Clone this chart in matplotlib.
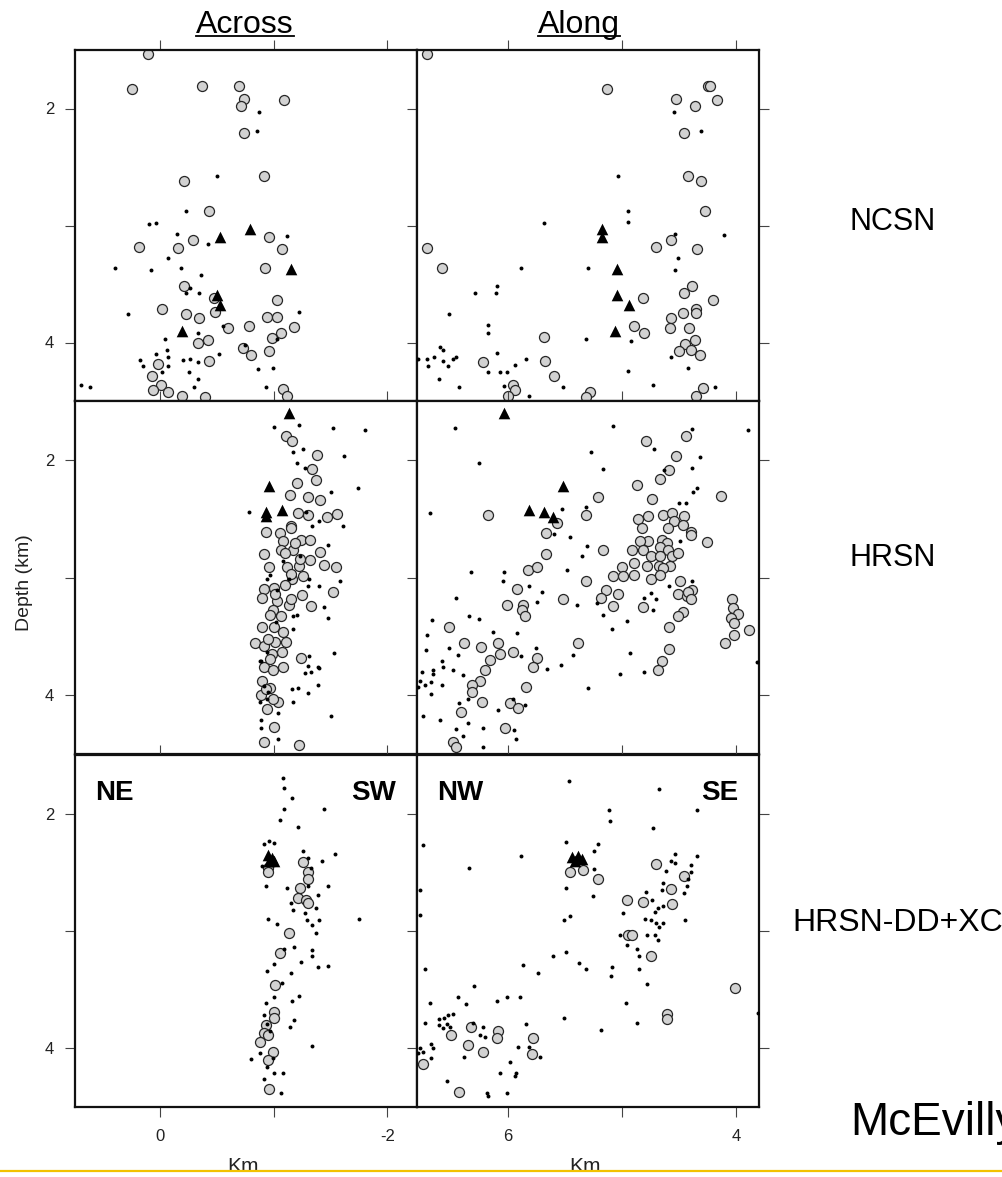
"""
Depth sections (across / along strike) for three catalog solutions.
"""
import numpy as np
import matplotlib
matplotlib.use("Agg")
import matplotlib.pyplot as plt
from matplotlib.lines import Line2D
from matplotlib.patches import Rectangle

plt.rcParams['font.family'] = ['Liberation Sans', 'DejaVu Sans']
plt.rcParams['axes.unicode_minus'] = False

# ---- catalog locations: (km, depth km) ----
NCSN_ACROSS_CIRC = [
    (0.11, 1.53), (0.25, 1.83), (-0.37, 1.81), (-0.69, 1.81), (-0.74, 1.92), (-0.71, 1.98),
    (-1.09, 1.93), (-0.74, 2.21), (-0.21, 2.62), (-0.91, 2.58), (-0.43, 2.88), (-0.29, 3.12),
    (0.19, 3.18), (-0.16, 3.19), (-0.96, 3.10), (-1.07, 3.20), (-0.92, 3.36), (-0.21, 3.52),
    (-0.47, 3.62), (-1.03, 3.64), (-0.02, 3.71), (-0.23, 3.76), (-0.34, 3.79), (-0.48, 3.74),
    (-0.60, 3.88), (-0.78, 3.86), (-0.94, 3.78), (-1.03, 3.78), (-1.18, 3.87), (-1.06, 3.92),
    (-0.98, 3.96), (-0.33, 4.00), (-0.42, 3.98), (-0.73, 4.05), (-0.80, 4.11), (-0.96, 4.07),
    (-0.43, 4.16), (0.02, 4.18), (0.07, 4.29), (-0.01, 4.36), (0.06, 4.41), (-0.07, 4.42),
    (-0.19, 4.46), (-0.39, 4.47), (-1.08, 4.40), (-1.12, 4.46),
]
NCSN_ACROSS_TRI = [(-0.53, 3.10), (-0.79, 3.03), (-1.15, 3.37), (-0.50, 3.59), (-0.53, 3.68),
                   (-0.19, 3.90)]
NCSN_ACROSS_DOT = [
    (-0.87, 2.03), (-0.85, 2.19), (-0.50, 2.58), (-0.23, 2.88), (0.10, 2.99), (0.04, 2.98),
    (-0.15, 3.07), (-0.42, 3.16), (-1.12, 3.09), (-0.07, 3.28), (0.40, 3.36), (0.08, 3.38),
    (-0.18, 3.36), (-0.36, 3.42), (-0.26, 3.53), (-0.23, 3.58), (-0.34, 3.58), (0.28, 3.76),
    (-1.22, 3.74), (-0.55, 3.86), (-0.33, 3.92), (-0.04, 3.97), (-1.03, 3.97), (-0.75, 4.02),
    (-0.06, 4.06), (0.04, 4.10), (-0.52, 4.10), (-0.07, 4.12), (0.18, 4.15), (0.15, 4.20),
    (-0.07, 4.20), (-0.20, 4.15), (-0.26, 4.14), (-0.33, 4.17), (-0.86, 4.23), (-0.99, 4.22),
    (-0.02, 4.25), (-0.25, 4.25), (-0.33, 4.31), (0.70, 4.36), (0.62, 4.38), (-0.30, 4.38),
    (-0.93, 4.38),
]

NCSN_ALONG_CIRC = [
    (6.71, 1.53), (5.13, 1.83), (4.25, 1.81), (4.23, 1.81), (4.53, 1.92), (4.36, 1.98),
    (4.17, 1.93), (4.46, 2.21), (4.42, 2.58), (4.31, 2.62), (4.27, 2.88), (6.71, 3.19),
    (6.58, 3.36), (4.70, 3.18), (4.57, 3.12), (4.34, 3.20), (4.39, 3.52), (4.46, 3.58),
    (4.20, 3.64), (4.82, 3.62), (4.90, 3.86), (4.81, 3.92), (4.57, 3.79), (4.47, 3.75),
    (4.35, 3.71), (4.35, 3.75), (4.58, 3.88), (4.41, 3.88), (4.45, 4.01), (4.36, 3.98),
    (4.50, 4.07), (4.40, 4.06), (4.32, 4.11), (5.69, 3.95), (6.22, 4.17), (5.68, 4.16),
    (5.60, 4.29), (5.96, 4.36), (5.94, 4.41), (6.00, 4.46), (5.28, 4.42), (5.32, 4.47),
    (4.29, 4.39), (4.35, 4.46),
]
NCSN_ALONG_TRI = [(5.18, 3.03), (5.18, 3.10), (5.05, 3.37), (5.05, 3.59), (4.94, 3.68),
                  (5.06, 3.90)]
NCSN_ALONG_DOT = [
    (4.55, 2.03), (4.31, 2.19), (5.04, 2.58), (4.95, 2.88), (4.95, 2.97), (5.69, 2.98),
    (4.54, 3.07), (4.11, 3.08), (4.51, 3.28), (4.54, 3.38), (5.89, 3.36), (5.30, 3.36),
    (6.29, 3.58), (6.11, 3.58), (6.10, 3.52), (6.52, 3.76), (6.18, 3.85), (6.18, 3.92),
    (5.32, 3.97), (4.92, 3.99), (6.60, 4.04), (6.57, 4.06), (6.79, 4.14), (6.71, 4.14),
    (6.65, 4.12), (6.70, 4.20), (6.57, 4.16), (6.53, 4.20), (6.48, 4.14), (6.46, 4.12),
    (6.61, 4.31), (6.43, 4.38), (6.10, 4.09), (6.18, 4.25), (6.07, 4.25), (6.01, 4.25),
    (5.94, 4.19), (5.84, 4.14), (6.04, 4.37), (5.52, 4.38), (4.95, 4.24), (4.73, 4.36),
    (4.57, 4.12), (4.42, 4.22), (4.19, 4.38), (5.82, 4.46),
]

HRSN_ACROSS_CIRC = [
    (-1.11, 1.80), (-1.16, 1.84), (-1.38, 1.96), (-1.34, 2.08), (-1.20, 2.20), (-1.37, 2.17),
    (-1.14, 2.30), (-1.30, 2.32), (-1.41, 2.34), (-1.56, 2.46), (-1.47, 2.49), (-1.30, 2.47),
    (-1.21, 2.45), (-0.93, 2.61), (-1.05, 2.62), (-1.15, 2.56), (-1.24, 2.68), (-1.32, 2.68),
    (-1.08, 2.69), (-0.91, 2.80), (-1.06, 2.77), (-1.17, 2.77), (-1.41, 2.78), (-1.32, 2.85),
    (-1.44, 2.89), (-1.55, 2.91), (-0.96, 2.91), (-1.12, 2.91), (-1.22, 2.90), (-1.26, 2.99),
    (-1.16, 3.01), (-1.52, 3.12), (-0.91, 3.10), (-1.00, 3.09), (-1.10, 3.06), (-1.25, 3.15),
    (-0.90, 3.17), (-1.03, 3.20), (-1.13, 3.23), (-1.33, 3.24), (-0.99, 3.28), (-0.97, 3.32),
    (-1.06, 3.33), (-0.90, 3.42), (-1.00, 3.42), (-1.08, 3.46), (-0.83, 3.56), (-0.91, 3.58),
    (-1.01, 3.55), (-1.11, 3.55), (-0.98, 3.65), (-1.07, 3.63), (-1.24, 3.68), (-0.91, 3.76),
    (-0.99, 3.79), (-1.08, 3.76), (-0.90, 3.88), (-0.97, 3.94), (-0.89, 4.00), (-1.04, 4.06),
    (-0.94, 4.12), (-1.00, 4.27), (-0.91, 4.40), (-1.22, 4.42), (-1.15, 2.58), (-1.19, 2.71),
    (-1.10, 2.79), (-1.23, 2.84), (-1.15, 2.97), (-1.01, 3.14), (-1.15, 3.18), (-0.95, 3.52),
    (-0.97, 3.69), (-0.93, 3.95), (-0.99, 4.03),
]
HRSN_ACROSS_TRI = [(-1.13, 1.60), (-0.96, 2.22), (-0.93, 2.44), (-0.93, 2.48), (-1.07, 2.43)]
HRSN_ACROSS_DOT = [
    (-1.00, 1.72), (-1.22, 1.70), (-1.52, 1.73), (-1.80, 1.75), (-1.17, 1.93), (-1.26, 1.91),
    (-1.62, 1.97), (-1.20, 2.03), (-1.27, 2.07), (-1.74, 2.24), (-1.50, 2.27), (-0.78, 2.44),
    (-1.61, 2.56), (-1.48, 2.72), (-1.58, 3.03), (-1.40, 3.07), (-1.44, 3.25), (-1.48, 3.34),
    (-1.17, 3.33), (-1.17, 3.44), (-1.53, 3.64), (-1.30, 3.75), (-1.39, 3.76), (-1.27, 3.81),
    (-1.39, 3.91), (-1.16, 3.95), (-1.21, 3.94), (-1.30, 3.98), (-1.17, 4.06), (-1.50, 4.18),
    (-0.89, 4.28), (-1.04, 4.37), (-0.89, 4.21), (-0.88, 4.06), (-0.95, 3.97), (-0.89, 3.71),
    (-0.94, 3.01), (-1.03, 3.11), (-1.31, 3.01), (-1.20, 3.32), (-1.31, 3.67), (-1.33, 3.80),
    (-1.40, 3.77), (-1.08, 2.86), (-1.13, 3.01), (-0.97, 2.98), (-1.30, 3.07), (-1.34, 2.56),
    (-1.28, 2.44), (-1.40, 2.52), (-1.23, 2.82), (-1.02, 3.38), (-0.94, 3.63), (-0.91, 3.92),
    (-0.94, 4.03), (-1.04, 4.15), (-0.88, 3.71),
]

HRSN_ALONG_CIRC = [
    (4.79, 1.84), (4.44, 1.80), (4.53, 1.97), (4.59, 2.09), (4.67, 2.16), (4.87, 2.21),
    (5.21, 2.32), (4.13, 2.31), (4.74, 2.33), (6.18, 2.47), (5.32, 2.47), (5.57, 2.54),
    (5.67, 2.62), (4.86, 2.50), (4.77, 2.48), (4.64, 2.47), (4.56, 2.45), (4.46, 2.48),
    (4.55, 2.52), (4.83, 2.58), (4.60, 2.58), (4.47, 2.55), (4.40, 2.61), (4.40, 2.64),
    (4.26, 2.70), (4.65, 2.68), (4.61, 2.71), (4.77, 2.69), (4.84, 2.69), (4.67, 2.74),
    (4.60, 2.77), (4.91, 2.77), (4.82, 2.77), (4.75, 2.82), (5.17, 2.77), (5.67, 2.80),
    (4.67, 2.82), (4.56, 2.82), (4.51, 2.79), (5.83, 2.94), (5.75, 2.91), (5.00, 2.91),
    (4.90, 2.88), (4.78, 2.90), (4.68, 2.90), (4.58, 2.90), (4.64, 2.92), (5.32, 3.03),
    (5.08, 2.99), (4.99, 2.99), (4.90, 2.98), (4.75, 3.01), (4.67, 2.98), (4.49, 3.03),
    (4.39, 3.11), (4.51, 3.14), (4.43, 3.16), (4.42, 3.12), (4.40, 3.18), (5.92, 3.10),
    (5.52, 3.18), (5.14, 3.11), (5.19, 3.17), (5.04, 3.14), (5.08, 3.24), (4.82, 3.25),
    (6.01, 3.23), (5.87, 3.23), (5.88, 3.28), (5.85, 3.33), (4.47, 3.29), (4.51, 3.33),
    (4.04, 3.18), (4.03, 3.26), (3.98, 3.31), (4.05, 3.34), (4.02, 3.39), (4.59, 3.42),
    (3.89, 3.45), (4.02, 3.49), (4.10, 3.56), (4.59, 3.61), (4.65, 3.71), (4.69, 3.79),
    (6.52, 3.42), (5.39, 3.56), (6.39, 3.56), (6.24, 3.59), (6.09, 3.56), (5.96, 3.63),
    (6.07, 3.65), (5.75, 3.68), (6.16, 3.70), (5.78, 3.76), (6.20, 3.79), (6.25, 3.88),
    (6.32, 3.91), (6.32, 3.97), (5.84, 3.93), (6.23, 4.06), (6.41, 4.14), (5.98, 4.07),
    (5.91, 4.11), (6.03, 4.28), (6.48, 4.40), (6.46, 4.44),
]
HRSN_ALONG_TRI = [(6.04, 1.60), (5.52, 2.22), (5.82, 2.43), (5.69, 2.44), (5.61, 2.49)]
HRSN_ALONG_DOT = [
    (6.47, 1.73), (5.08, 1.71), (4.39, 1.74), (3.90, 1.75), (4.72, 1.91), (5.27, 1.93),
    (4.32, 1.98), (6.26, 2.03), (5.17, 2.08), (4.39, 2.07), (4.63, 2.09), (4.34, 2.24),
    (4.38, 2.27), (6.69, 2.45), (5.53, 2.42), (5.32, 2.40), (4.50, 2.37), (4.44, 2.37),
    (5.60, 2.63), (5.46, 2.66), (5.31, 2.73), (5.35, 2.82), (4.49, 2.69), (6.33, 2.95),
    (6.04, 2.95), (6.05, 3.03), (5.48, 2.94), (5.82, 3.07), (5.70, 3.12), (5.75, 3.21),
    (6.46, 3.17), (5.40, 3.23), (5.22, 3.22), (5.17, 3.32), (5.09, 3.44), (4.96, 3.37),
    (4.81, 3.17), (4.70, 3.18), (4.73, 3.28), (4.75, 3.13), (4.59, 3.07), (4.39, 3.03),
    (6.34, 3.33), (6.26, 3.35), (6.67, 3.36), (6.13, 3.46), (5.92, 3.47), (6.71, 3.49),
    (6.72, 3.62), (6.52, 3.60), (6.44, 3.66), (5.76, 3.60), (5.89, 3.67), (5.43, 3.66),
    (4.93, 3.64), (6.58, 3.71), (6.57, 3.76), (6.66, 3.79), (6.66, 3.82), (6.76, 3.80),
    (6.48, 3.79), (6.40, 3.83), (6.58, 3.91), (6.68, 3.89), (6.73, 3.91), (6.79, 3.93),
    (6.77, 3.88), (6.68, 3.99), (5.66, 3.78), (5.54, 3.74), (5.02, 3.82), (4.81, 3.80),
    (5.30, 3.94), (6.35, 4.03), (6.43, 4.07), (6.75, 4.18), (6.60, 4.21), (6.35, 4.24),
    (6.09, 4.13), (5.96, 4.03), (5.85, 4.08), (6.46, 4.29), (6.40, 4.35), (6.22, 4.28),
    (6.22, 4.44), (5.95, 4.30), (5.93, 4.37), (3.82, 3.72),
]

DDXC_ACROSS_CIRC = [
    (-0.95, 2.46), (-0.95, 2.50), (-1.26, 2.41), (-1.30, 2.50), (-1.30, 2.56), (-1.23, 2.63),
    (-1.21, 2.72), (-1.28, 2.74), (-1.30, 2.76), (-1.13, 3.02), (-1.05, 3.19), (-1.01, 3.46),
    (-1.00, 3.69), (-1.00, 3.74), (-0.93, 3.80), (-0.91, 3.87), (-0.95, 3.89), (-0.88, 3.95),
    (-0.99, 4.03), (-0.95, 4.10), (-0.96, 4.35),
]
DDXC_ACROSS_TRI = [(-0.95, 2.35), (-0.98, 2.38), (-1.00, 2.40), (-0.96, 2.40)]
DDXC_ACROSS_DOT = [
    (-1.08, 1.70), (-1.09, 1.78), (-1.16, 1.87), (-1.09, 1.96), (-1.44, 1.96), (-1.05, 2.05),
    (-1.21, 2.11), (-0.91, 2.26), (-0.96, 2.23), (-1.00, 2.25), (-0.90, 2.45), (-1.26, 2.32),
    (-1.54, 2.34), (-1.42, 2.40), (-1.30, 2.38), (-1.33, 2.46), (-1.48, 2.62), (-0.93, 2.62),
    (-1.12, 2.63), (-1.30, 2.62), (-1.39, 2.69), (-1.15, 2.76), (-1.37, 2.80), (-1.17, 2.82),
    (-1.27, 2.85), (-1.40, 2.91), (-1.75, 2.90), (-0.95, 2.90), (-1.03, 2.94), (-1.29, 2.91),
    (-1.34, 2.95), (-1.37, 3.02), (-1.18, 3.14), (-1.34, 3.16), (-1.34, 3.21), (-1.00, 3.28),
    (-1.09, 3.15), (-1.24, 3.26), (-1.39, 3.31), (-1.48, 3.30), (-0.94, 3.34), (-1.15, 3.36),
    (-1.07, 3.44), (-0.93, 3.61), (-1.00, 3.56), (-1.22, 3.55), (-1.16, 3.60), (-1.18, 3.76),
    (-1.14, 3.82), (-0.91, 3.72), (-0.94, 3.79), (-0.97, 3.85), (-1.34, 3.98), (-0.80, 4.09),
    (-0.94, 4.16), (-0.91, 4.26), (-1.00, 4.21), (-1.08, 4.21), (-1.06, 4.38), (-0.88, 4.04),
    (-0.99, 4.08),
]

DDXC_ALONG_CIRC = [
    (5.46, 2.50), (5.34, 2.48), (5.21, 2.56), (4.70, 2.43), (4.46, 2.53), (4.57, 2.64),
    (4.56, 2.77), (4.96, 2.74), (4.82, 2.75), (4.95, 3.03), (4.91, 3.03), (4.75, 3.21),
    (4.01, 3.49), (4.61, 3.71), (4.61, 3.75), (6.50, 3.89), (6.33, 3.82), (6.09, 3.85),
    (6.10, 3.91), (6.35, 3.97), (6.22, 4.03), (5.78, 3.91), (5.79, 4.05), (6.75, 4.13),
    (6.43, 4.37),
]
DDXC_ALONG_TRI = [(5.44, 2.37), (5.39, 2.36), (5.35, 2.39), (5.41, 2.40)]
DDXC_ALONG_DOT = [
    (5.47, 1.72), (4.68, 1.79), (5.12, 1.97), (5.11, 2.06), (4.34, 1.97), (4.73, 2.12),
    (5.49, 2.24), (5.21, 2.26), (5.25, 2.32), (6.75, 2.27), (5.89, 2.36), (6.34, 2.46),
    (5.25, 2.47), (4.54, 2.34), (4.57, 2.40), (4.54, 2.42), (4.34, 2.36), (4.40, 2.44),
    (4.40, 2.50), (4.42, 2.56), (4.43, 2.62), (4.62, 2.49), (4.64, 2.59), (4.65, 2.65),
    (4.46, 2.68), (5.26, 2.70), (5.49, 2.63), (4.79, 2.67), (4.74, 2.74), (4.69, 2.80),
    (4.71, 2.84), (4.64, 2.79), (4.45, 2.91), (4.99, 2.85), (4.80, 2.90), (4.75, 2.91),
    (4.70, 2.93), (4.64, 2.93), (4.68, 2.97), (5.46, 2.87), (5.51, 2.91), (5.02, 3.03),
    (4.78, 3.03), (4.71, 3.03), (4.69, 3.08), (4.96, 3.12), (4.87, 3.15), (4.85, 3.21),
    (5.49, 3.18), (5.61, 3.21), (5.38, 3.27), (5.32, 3.32), (5.09, 3.31), (5.10, 3.38),
    (4.85, 3.32), (5.87, 3.29), (5.74, 3.36), (6.73, 3.32), (4.78, 3.45), (6.30, 3.47),
    (6.44, 3.56), (6.37, 3.62), (6.10, 3.60), (6.01, 3.56), (5.90, 3.56), (6.69, 3.61),
    (4.97, 3.61), (5.51, 3.74), (5.19, 3.84), (4.87, 3.78), (6.73, 3.78), (6.61, 3.75),
    (6.56, 3.74), (6.53, 3.72), (6.48, 3.71), (6.61, 3.80), (6.54, 3.79), (6.51, 3.82),
    (6.57, 3.83), (6.31, 3.78), (6.22, 3.82), (6.20, 3.90), (6.25, 3.89), (5.84, 3.79),
    (6.68, 3.96), (6.77, 4.00), (6.75, 4.03), (6.79, 4.04), (6.66, 4.00), (6.68, 4.08),
    (6.39, 4.07), (5.91, 3.99), (5.82, 3.99), (5.72, 4.07), (5.98, 4.12), (6.07, 4.21),
    (5.93, 4.21), (5.94, 4.24), (6.54, 4.28), (6.19, 4.38), (6.18, 4.41), (6.01, 4.38),
    (6.77, 2.65), (6.77, 2.86), (3.81, 3.70),
]

ROW_NAMES = ['NCSN', 'HRSN', 'HRSN-DD+XC']
PANELS = [
    [(NCSN_ACROSS_CIRC, NCSN_ACROSS_DOT, NCSN_ACROSS_TRI),
     (NCSN_ALONG_CIRC, NCSN_ALONG_DOT, NCSN_ALONG_TRI)],
    [(HRSN_ACROSS_CIRC, HRSN_ACROSS_DOT, HRSN_ACROSS_TRI),
     (HRSN_ALONG_CIRC, HRSN_ALONG_DOT, HRSN_ALONG_TRI)],
    [(DDXC_ACROSS_CIRC, DDXC_ACROSS_DOT, DDXC_ACROSS_TRI),
     (DDXC_ALONG_CIRC, DDXC_ALONG_DOT, DDXC_ALONG_TRI)],
]

W, H = 1003, 1177
fig = plt.figure(figsize=(W / 100, H / 100), dpi=100, facecolor='white')


def px_box(x0, y0, x1, y1):
    """pixel box (top-left origin) -> figure fraction rect"""
    return [x0 / W, 1 - y1 / H, (x1 - x0) / W, (y1 - y0) / H]


col_px = [(75, 417), (417, 759)]
row_px = [(50, 401), (401, 754), (755, 1107)]
xlims = [(0.75, -2.26), (6.80, 3.80)]
xticks = [[0, -1, -2], [6, 5, 4]]
xticklabels = [['0', '', '-2'], ['6', '', '4']]
corner_labels = [('NE', 'SW'), ('NW', 'SE')]

for r in range(3):
    for c in range(2):
        ax = fig.add_axes(px_box(col_px[c][0], row_px[r][0], col_px[c][1], row_px[r][1]))
        circ, dots, tris = [np.array(a) for a in PANELS[r][c]]
        ax.scatter(circ[:, 0], circ[:, 1], s=52, marker='o', facecolor='#d2d2d2',
                   edgecolor='#262626', linewidth=0.9, zorder=2)
        ax.scatter(dots[:, 0], dots[:, 1], s=8, marker='o', color='black',
                   linewidth=0, zorder=3)
        ax.scatter(tris[:, 0], tris[:, 1], s=70, marker='^', color='black',
                   linewidth=0, zorder=4)
        ax.set_xlim(*xlims[c])
        ax.set_ylim(4.5, 1.5)
        ax.set_xticks(xticks[c])
        ax.set_xticklabels(xticklabels[c])
        ax.set_yticks([2, 3, 4])
        ax.set_yticklabels(['2', '', '4'])
        ax.tick_params(direction='out', length=7, width=0.8, color='#444444',
                       top=True, right=True, labelsize=12, labelcolor='#222222')
        ax.tick_params(axis='x', pad=9, labelbottom=(r == 2))
        ax.tick_params(axis='y', pad=8, labelleft=(c == 0))
        for sp in ax.spines.values():
            sp.set_linewidth(1.6)
            sp.set_color('#111111')
        if r == 2:
            left, right = corner_labels[c]
            ax.text(0.06, 0.93, left, transform=ax.transAxes, fontsize=20,
                    fontweight='bold', va='top', ha='left')
            ax.text(0.94, 0.93, right, transform=ax.transAxes, fontsize=20,
                    fontweight='bold', va='top', ha='right')

# column headings, underlined
for label, xc in [('Across', 245), ('Along', 579)]:
    t = fig.text(xc / W, 1 - 33 / H, label, fontsize=23, ha='center', va='baseline')
    fig.canvas.draw()
    bb = t.get_window_extent(fig.canvas.get_renderer())
    fig.add_artist(Line2D([bb.x0 / W, bb.x1 / W], [1 - 35.5 / H] * 2,
                          transform=fig.transFigure, color='black', linewidth=1.3))

fig.text(25 / W, 1 - 583 / H, 'Depth (km)', rotation=90, fontsize=14,
         ha='center', va='center', color='#222222')
fig.text(243 / W, 1 - 1172 / H, 'Km', fontsize=15, ha='center', va='baseline',
         color='#222222')
fig.text(585 / W, 1 - 1172 / H, 'Km', fontsize=15, ha='center', va='baseline',
         color='#222222')

# network names at the right of each row
fig.text(850 / W, 1 - 222 / H, ROW_NAMES[0], fontsize=22, ha='left', va='center')
fig.text(850 / W, 1 - 558 / H, ROW_NAMES[1], fontsize=22, ha='left', va='center')
fig.text(792 / W, 1 - 923 / H, ROW_NAMES[2], fontsize=23, ha='left', va='center')
fig.text(850 / W, 1 - 1135 / H, 'McEvilly', fontsize=33, ha='left', va='baseline')

# slide footer rule
fig.add_artist(Rectangle((0, 0), 1, 5.5 / H, transform=fig.transFigure,
                         facecolor='white', edgecolor='none', zorder=10))
fig.add_artist(Line2D([0, 1], [1 - 1171 / H] * 2, transform=fig.transFigure,
                      color='#f2c200', linewidth=1.6, zorder=11))

fig.savefig('out.png', dpi=100, facecolor='white')
